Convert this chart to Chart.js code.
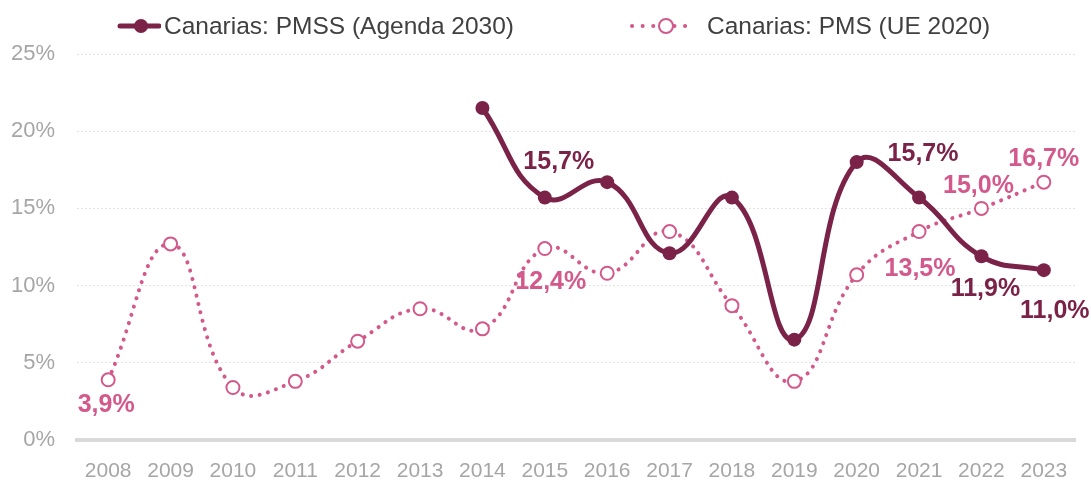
<!DOCTYPE html>
<html>
<head>
<meta charset="utf-8">
<script src="https://cdn.jsdelivr.net/npm/chart.js@4.4.1/dist/chart.umd.min.js"></script>
<style>
    body { margin: 0; background: #fff; }
    .wrap { position: relative; width: 1091px; height: 481px; }
    .legend { position: absolute; top: 8px; left: 0; width: 1091px; height: 36px;
              font-family: 'Liberation Sans', Arial, sans-serif; font-size: 24.5px; color: #404040; }
    .legend-item { position: absolute; top: 0; display: flex; align-items: center; height: 36px; }
    .legend-item canvas { margin-right: 3px; }
</style>
</head>
<body>
<div class="wrap">
    <canvas id="chart" width="1091" height="481"></canvas>
    <div class="legend">
        <div class="legend-item" style="left:117px"><canvas id="lg1" width="44" height="20"></canvas><span id="lt1"></span></div>
        <div class="legend-item" style="left:626px"><canvas id="lg2" width="78" height="20"></canvas><span id="lt2"></span></div>
    </div>
</div>
<script>
        // Data
        const years = ['2008', '2009', '2010', '2011', '2012', '2013', '2014', '2015', '2016', '2017', '2018', '2019', '2020', '2021', '2022', '2023'];
        const pmssName = 'Canarias: PMSS (Agenda 2030)';
        const pmsName = 'Canarias: PMS (UE 2020)';
        const pmss = [null, null, null, null, null, null, 21.5, 15.7, 16.7, 12.1, 15.7, 6.5, 18.0, 15.7, 11.9, 11.0];
        const pms = [3.9, 12.7, 3.4, 3.8, 6.4, 8.5, 7.2, 12.4, 10.8, 13.5, 8.7, 3.8, 10.7, 13.5, 15.0, 16.7];
        const pmssLabelYears = ['2015', '2021', '2022', '2023'];
        const pmsLabelYears = ['2008', '2015', '2021', '2022', '2023'];
        const yTicks = [0, 5, 10, 15, 20, 25];

        const dark = '#7B2249';
        const pink = '#D3588C';

        // label offsets in px from the point
        const pmssOffsets = { '2015': [14, -35], '2021': [4, -43], '2022': [4, 33], '2023': [11, 41] };
        const pmsOffsets = { '2008': [-2, 25], '2015': [6, 34], '2021': [1, 38], '2022': [-3, -22], '2023': [0, -23] };

        function fmt(v) {
            return v.toFixed(1).replace('.', ',') + '%';
        }

        const dataLabels = {
            id: 'dataLabels',
            afterDatasetsDraw(chart) {
                const ctx = chart.ctx;
                ctx.save();
                ctx.font = 'bold 25px "Liberation Sans", Arial, sans-serif';
                ctx.textAlign = 'center';
                ctx.textBaseline = 'middle';
                const sets = [
                    { idx: 1, values: pms, which: pmsLabelYears, offsets: pmsOffsets, color: pink },
                    { idx: 0, values: pmss, which: pmssLabelYears, offsets: pmssOffsets, color: dark }
                ];
                sets.forEach(s => {
                    const meta = chart.getDatasetMeta(s.idx);
                    ctx.fillStyle = s.color;
                    s.which.forEach(y => {
                        const i = years.indexOf(y);
                        const pt = meta.data[i];
                        const off = s.offsets[y];
                        ctx.fillText(fmt(s.values[i]), pt.x + off[0], pt.y + off[1]);
                    });
                });
                ctx.restore();
            }
        };

        new Chart(document.getElementById('chart'), {
            type: 'line',
            data: {
                labels: years,
                datasets: [{
                    label: pmssName,
                    data: pmss,
                    borderColor: dark,
                    backgroundColor: dark,
                    borderWidth: 5,
                    tension: 0.45,
                    pointRadius: 7,
                    pointBackgroundColor: dark,
                    pointBorderColor: dark,
                    pointBorderWidth: 0,
                    clip: false
                }, {
                    label: pmsName,
                    data: pms,
                    borderColor: pink,
                    backgroundColor: '#fff',
                    borderWidth: 4,
                    borderDash: [0.1, 8.5],
                    borderCapStyle: 'round',
                    tension: 0.45,
                    pointRadius: 6.5,
                    pointBackgroundColor: '#fff',
                    pointBorderColor: pink,
                    pointBorderWidth: 2,
                    clip: false
                }]
            },
            options: {
                responsive: false,
                animation: false,
                layout: { padding: { top: 54, right: 16, left: 0, bottom: 0 } },
                plugins: {
                    legend: { display: false },
                    tooltip: { enabled: false }
                },
                scales: {
                    x: {
                        offset: true,
                        afterFit: axis => { axis.height = 41; },
                        grid: { display: false, drawTicks: false },
                        border: { color: '#d9d9d9', width: 4 },
                        ticks: {
                            color: '#a6a6a6',
                            padding: 19,
                            maxRotation: 0,
                            font: { family: '"Liberation Sans", Arial, sans-serif', size: 21 }
                        }
                    },
                    y: {
                        min: 0,
                        max: 25,
                        afterFit: axis => { axis.width = 77; },
                        afterBuildTicks: axis => { axis.ticks = yTicks.map(v => ({ value: v })); },
                        grid: { color: '#e2e2e2', lineWidth: 1, drawTicks: false },
                        border: { display: false, dash: [2, 2] },
                        ticks: {
                            color: '#a6a6a6',
                            padding: 22,
                            callback: v => v + '%',
                            font: { family: '"Liberation Sans", Arial, sans-serif', size: 22 }
                        }
                    }
                }
            },
            plugins: [dataLabels]
        });

        // Legend
        document.getElementById('lt1').textContent = pmssName;
        document.getElementById('lt2').textContent = pmsName;

        const l1 = document.getElementById('lg1').getContext('2d');
        l1.strokeStyle = dark;
        l1.lineWidth = 5;
        l1.lineCap = 'round';
        l1.beginPath(); l1.moveTo(3, 10); l1.lineTo(42, 10); l1.stroke();
        l1.fillStyle = dark;
        l1.beginPath(); l1.arc(24, 10, 7, 0, Math.PI * 2); l1.fill();

        const l2 = document.getElementById('lg2').getContext('2d');
        l2.strokeStyle = pink;
        l2.lineWidth = 4;
        l2.lineCap = 'round';
        l2.setLineDash([0.1, 10.5]);
        l2.beginPath(); l2.moveTo(6, 10); l2.lineTo(66, 10); l2.stroke();
        l2.fillStyle = '#fff';
        l2.lineWidth = 2;
        l2.setLineDash([]);
        l2.beginPath(); l2.arc(40, 10, 7, 0, Math.PI * 2); l2.fill(); l2.stroke();
</script>
</body>
</html>
